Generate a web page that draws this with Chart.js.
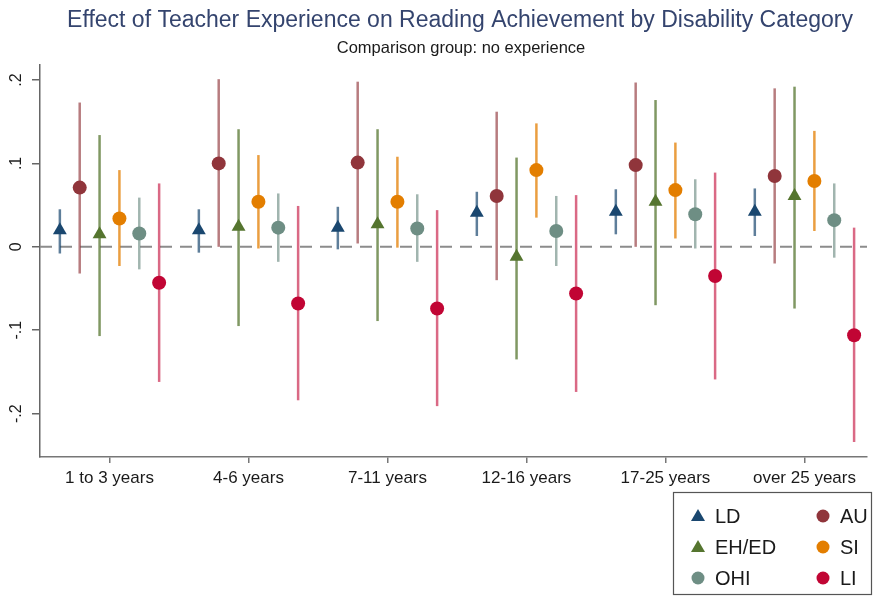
<!DOCTYPE html>
<html>
<head>
<meta charset="utf-8">
<script src="https://cdn.jsdelivr.net/npm/chart.js@4.4.0/dist/chart.umd.min.js"></script>
<style>
html, body { margin: 0; padding: 0; background: #fff; }
#wrap { width: 875px; height: 597px; position: relative; }
</style>
</head>
<body>
<div id="wrap"><canvas id="myChart"></canvas></div>
<script>
// coefficient plot - teacher experience by disability category
var categories = ["1 to 3 years", "4-6 years", "7-11 years", "12-16 years", "17-25 years", "over 25 years"];
var seriesNames = ["LD", "AU", "EH/ED", "SI", "OHI", "LI"];

var ldEst = [0.020, 0.020, 0.023, 0.041, 0.042, 0.042];
var ldLo  = [-0.008, -0.007, -0.003, 0.013, 0.015, 0.013];
var ldHi  = [0.045, 0.045, 0.048, 0.066, 0.069, 0.070];

var auEst = [0.071, 0.100, 0.101, 0.061, 0.098, 0.085];
var auLo  = [-0.032, 0.000, 0.004, -0.040, 0.000, -0.020];
var auHi  = [0.173, 0.201, 0.198, 0.162, 0.197, 0.190];

var ehEst = [0.015, 0.024, 0.027, -0.012, 0.054, 0.061];
var ehLo  = [-0.107, -0.095, -0.089, -0.135, -0.070, -0.074];
var ehHi  = [0.134, 0.141, 0.141, 0.107, 0.176, 0.192];

var siEst = [0.034, 0.054, 0.054, 0.092, 0.068, 0.079];
var siLo  = [-0.023, -0.002, -0.001, 0.035, 0.010, 0.019];
var siHi  = [0.092, 0.110, 0.108, 0.148, 0.125, 0.139];

var ohiEst = [0.016, 0.023, 0.022, 0.019, 0.039, 0.032];
var ohiLo  = [-0.027, -0.018, -0.018, -0.023, -0.002, -0.013];
var ohiHi  = [0.059, 0.064, 0.063, 0.061, 0.081, 0.076];

var liEst = [-0.043, -0.068, -0.074, -0.056, -0.035, -0.106];
var liLo  = [-0.162, -0.184, -0.191, -0.174, -0.159, -0.234];
var liHi  = [0.076, 0.049, 0.044, 0.062, 0.089, 0.023];

var yTickValues = [-0.2, -0.1, 0, 0.1, 0.2];
var yTickLabels = ["-.2", "-.1", "0", ".1", ".2"];

// styling
var markerColors = ["#1a476f", "#90353b", "#55752f", "#e37e00", "#6e8e84", "#c10534"];
var ciColors = ["rgba(26,71,111,0.7)", "rgba(144,53,59,0.65)", "rgba(85,117,47,0.75)",
                "rgba(227,126,0,0.75)", "rgba(110,142,132,0.65)", "rgba(193,5,52,0.6)"];
var markerStyles = ["triangle", "circle", "triangle", "circle", "circle", "circle"];
var slotWidth = 20 / 140;

Chart.defaults.font.family = "'Liberation Sans', Arial, sans-serif";

var allEst = [ldEst, auEst, ehEst, siEst, ohiEst, liEst];
var allLo = [ldLo, auLo, ehLo, siLo, ohiLo, liLo];
var allHi = [ldHi, auHi, ehHi, siHi, ohiHi, liHi];

var datasets = seriesNames.map(function (name, s) {
  var off = (s - 2.5) * slotWidth;
  return {
    label: name,
    data: allEst[s].map(function (v, i) { return { x: i + off, y: v }; }),
    lo: allLo[s],
    hi: allHi[s],
    ciColor: ciColors[s],
    pointStyle: markerStyles[s],
    pointRadius: markerStyles[s] == "triangle" ? 8 : 7,
    backgroundColor: markerColors[s],
    borderColor: markerColors[s],
    borderWidth: 0,
    showLine: false
  };
});

var extrasPlugin = {
  id: "extras",
  beforeDatasetsDraw: function (chart) {
    var ctx = chart.ctx, xs = chart.scales.x, ys = chart.scales.y, area = chart.chartArea;
    // zero reference line
    ctx.save();
    ctx.strokeStyle = "#8c8c8c";
    ctx.lineWidth = 2;
    ctx.setLineDash([12, 8]);
    ctx.beginPath();
    var y0 = ys.getPixelForValue(0);
    ctx.moveTo(area.left, y0);
    ctx.lineTo(area.right, y0);
    ctx.stroke();
    ctx.restore();
    // confidence intervals
    chart.data.datasets.forEach(function (ds) {
      ctx.save();
      ctx.strokeStyle = ds.ciColor;
      ctx.lineWidth = 2.5;
      ds.data.forEach(function (p, i) {
        var px = xs.getPixelForValue(p.x);
        ctx.beginPath();
        ctx.moveTo(px, ys.getPixelForValue(ds.lo[i]));
        ctx.lineTo(px, ys.getPixelForValue(ds.hi[i]));
        ctx.stroke();
      });
      ctx.restore();
    });
  },
  afterDraw: function (chart) {
    var ctx = chart.ctx, ys = chart.scales.y;
    ctx.save();
    // titles
    ctx.textAlign = "center";
    ctx.textBaseline = "middle";
    ctx.fillStyle = "#34446e";
    ctx.font = "23px 'Liberation Sans', Arial, sans-serif";
    ctx.fillText("Effect of Teacher Experience on Reading Achievement by Disability Category", 460, 21);
    ctx.fillStyle = "#1a1a1a";
    ctx.font = "16.5px 'Liberation Sans', Arial, sans-serif";
    ctx.fillText("Comparison group: no experience", 461, 48);
    // rotated y tick labels
    ctx.font = "16px 'Liberation Sans', Arial, sans-serif";
    ctx.fillStyle = "#1a1a1a";
    yTickValues.forEach(function (v, i) {
      ctx.save();
      ctx.translate(17, ys.getPixelForValue(v));
      ctx.rotate(-Math.PI / 2);
      ctx.fillText(yTickLabels[i], 0, 0);
      ctx.restore();
    });
    // legend
    ctx.strokeStyle = "#555";
    ctx.lineWidth = 1.2;
    ctx.strokeRect(673.5, 492.5, 198, 102);
    ctx.textAlign = "left";
    ctx.font = "20px 'Liberation Sans', Arial, sans-serif";
    chart.data.datasets.forEach(function (ds, s) {
      var col = s % 2, row = Math.floor(s / 2);
      var mx = col == 0 ? 698 : 823;
      var my = 516 + row * 31;
      ctx.fillStyle = ds.backgroundColor;
      ctx.beginPath();
      if (ds.pointStyle == "triangle") {
        ctx.moveTo(mx, my - 7);
        ctx.lineTo(mx + 7, my + 5);
        ctx.lineTo(mx - 7, my + 5);
        ctx.closePath();
      } else {
        ctx.arc(mx, my, 6.5, 0, Math.PI * 2);
      }
      ctx.fill();
      ctx.fillStyle = "#1a1a1a";
      ctx.fillText(ds.label, mx + 17, my + 1);
    });
    ctx.restore();
  }
};

new Chart("myChart", {
  type: "scatter",
  data: { datasets: datasets },
  options: {
    responsive: true,
    maintainAspectRatio: false,
    animation: false,
    events: [],
    layout: { padding: { top: 65, left: 40, right: 3, bottom: 0 } },
    plugins: {
      legend: { display: false },
      title: { display: false },
      tooltip: { enabled: false }
    },
    scales: {
      x: {
        type: "linear",
        min: -0.5,
        max: 5.45,
        afterBuildTicks: function (scale) {
          scale.ticks = categories.map(function (c, i) { return { value: i }; });
        },
        afterFit: function (scale) { scale.height = 140; },
        ticks: {
          callback: function (v) { return categories[v]; },
          font: { size: 17 },
          color: "#1a1a1a",
          padding: 5,
          maxRotation: 0,
          autoSkip: false
        },
        grid: { display: true, drawOnChartArea: false, tickLength: 6, color: "#777", lineWidth: 1.5 },
        border: { display: true, color: "#777", width: 1.5 }
      },
      y: {
        min: -0.252,
        max: 0.218,
        afterBuildTicks: function (scale) {
          scale.ticks = yTickValues.map(function (v) { return { value: v }; });
        },
        afterFit: function (scale) { scale.width = 0; },
        ticks: { display: false },
        grid: { display: true, drawOnChartArea: false, tickLength: 8, color: "#666", lineWidth: 1.5 },
        border: { display: true, color: "#666", width: 1.5 }
      }
    }
  },
  plugins: [extrasPlugin]
});
</script>
</body>
</html>
